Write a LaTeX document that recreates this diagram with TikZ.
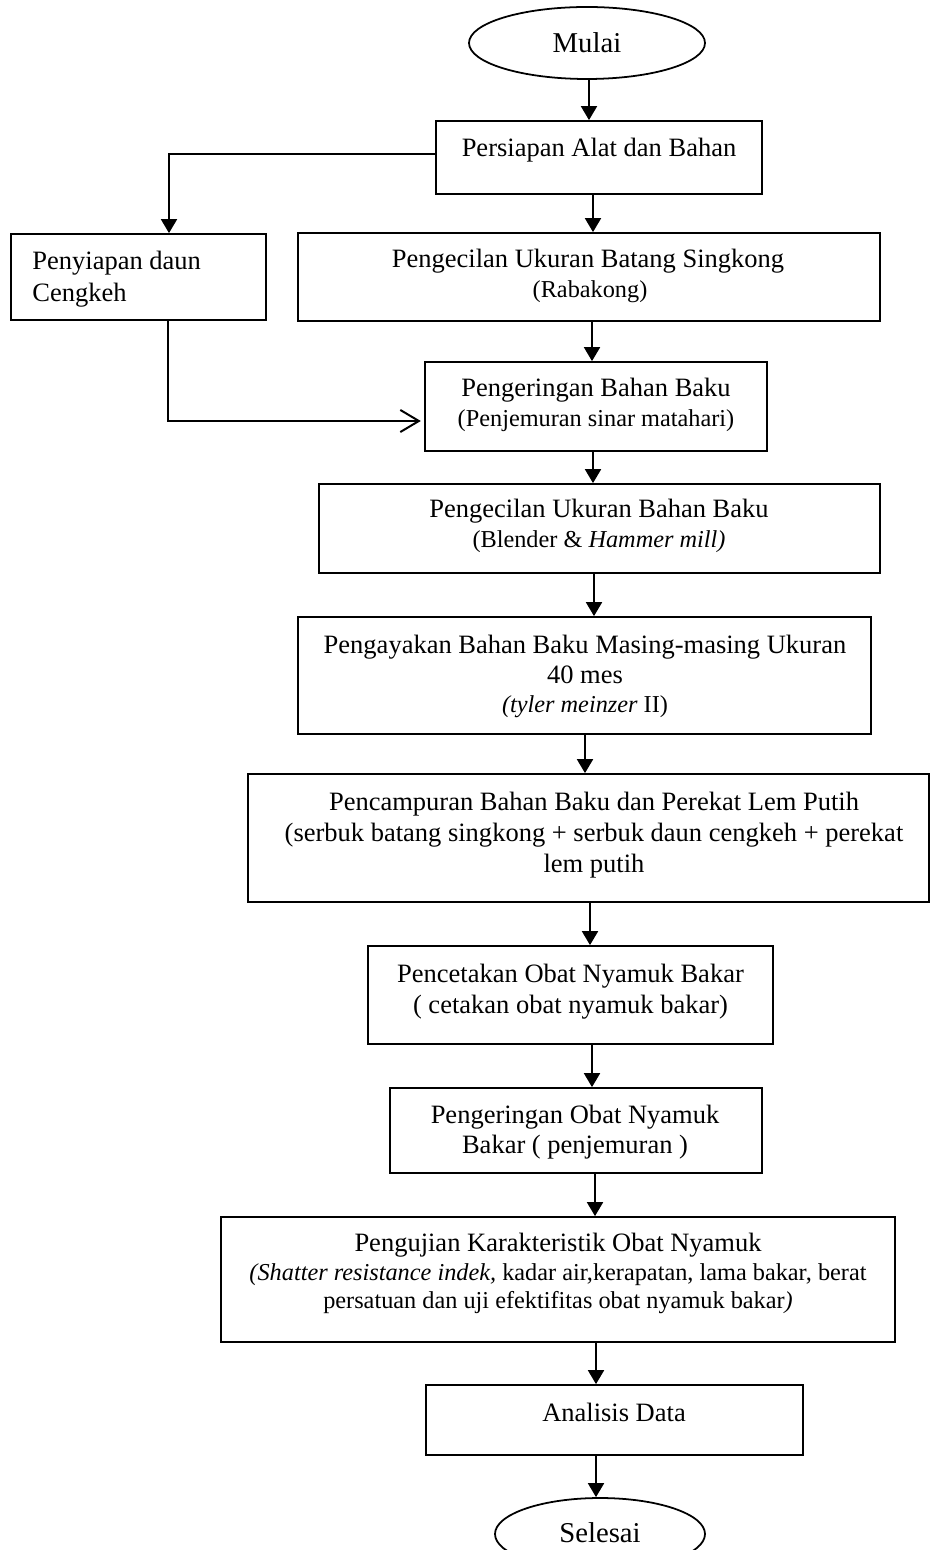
\documentclass[tikz,border=0pt]{standalone}
\usepackage{fontspec}
\setmainfont{Liberation Serif}
\usetikzlibrary{shapes.geometric,arrows.meta}
\begin{document}
\begin{tikzpicture}[x=0.4528pt,y=-0.4528pt,
  pbox/.style 2 args={draw,line width=0.8pt,rectangle,inner sep=0pt,minimum width=#1*0.4528pt,minimum height=#2*0.4528pt},
  term/.style 2 args={draw,line width=0.8pt,ellipse,inner sep=0pt,minimum width=#1*0.4528pt,minimum height=#2*0.4528pt},
  txt/.style={inner sep=0pt,anchor=base,font=\fontsize{12}{14}\selectfont},
  subtxt/.style={inner sep=0pt,anchor=base,font=\fontsize{11}{13}\selectfont},
  termtxt/.style={inner sep=0pt,anchor=base,font=\fontsize{13}{15}\selectfont},
  arr/.style={line width=0.9pt,-{Triangle[width=7.2pt,length=6.3pt]}},
  oarr/.style={line width=0.9pt,-{Straight Barb[length=8.4pt,width=10pt,line width=0.9pt]}}]
\useasboundingbox (0,0) rectangle (931,1550);

% boxes
\node[term={236}{72}] (mulai) at (587,43) {};
\node[pbox={326}{73}] (persiapan) at (599,157.5) {};
\node[pbox={255}{86}] (penyiapan) at (138.5,277) {};
\node[pbox={582}{88}] (batang) at (589,277) {};
\node[pbox={342}{89}] (kering) at (596,406.5) {};
\node[pbox={561}{89}] (kecil) at (599.5,528.5) {};
\node[pbox={573}{117}] (ayak) at (584.5,675.5) {};
\node[pbox={681}{128}] (campur) at (588.5,838) {};
\node[pbox={405}{98}] (cetak) at (570.5,995) {};
\node[pbox={372}{85}] (keringobat) at (576,1130.5) {};
\node[pbox={674}{125}] (uji) at (558,1279.5) {};
\node[pbox={377}{70}] (analisis) at (614.5,1420) {};
\node[term={210}{72}] (selesai) at (600,1534) {};

% texts
\node[termtxt] (tmulai) at (587,53) {Mulai};
\node[txt] (tpersiapan) at (599,157) {Persiapan Alat dan Bahan};
\node[txt,anchor=base west] (tpenyiapan1) at (32,270) {Penyiapan daun};
\node[txt,anchor=base west] (tpenyiapan2) at (32,302) {Cengkeh};
\node[txt] (tbatang1) at (588,268) {Pengecilan Ukuran Batang Singkong};
\node[subtxt] (tbatang2) at (590,298) {(Rabakong)};
\node[txt] (tkering1) at (596,397) {Pengeringan Bahan Baku};
\node[subtxt] (tkering2) at (596,427) {(Penjemuran sinar matahari)};
\node[txt] (tkecil1) at (599,518) {Pengecilan Ukuran Bahan Baku};
\node[subtxt] (tkecil2) at (599,548) {(Blender \& \textit{Hammer mill)}};
\node[txt] (tayak1) at (585,653) {Pengayakan Bahan Baku Masing-masing Ukuran};
\node[txt] (tayak2) at (585,683) {40 mes};
\node[subtxt] (tayak3) at (585,712) {\textit{(tyler meinzer} II)};
\node[txt] (tcampur1) at (594,810) {Pencampuran Bahan Baku dan Perekat Lem Putih};
\node[txt] (tcampur2) at (594,841) {(serbuk batang singkong + serbuk daun cengkeh + perekat};
\node[txt] (tcampur3) at (594,872) {lem putih};
\node[txt] (tcetak1) at (570.5,982) {Pencetakan Obat Nyamuk Bakar};
\node[txt] (tcetak2) at (570.5,1013) {( cetakan obat nyamuk bakar)};
\node[txt] (tkeringobat1) at (575,1123) {Pengeringan Obat Nyamuk};
\node[txt] (tkeringobat2) at (575,1153) {Bakar ( penjemuran )};
\node[txt] (tuji1) at (558,1251) {Pengujian Karakteristik Obat Nyamuk};
\node[subtxt] (tuji2) at (558,1280) {\textit{(Shatter resistance indek,} kadar air,kerapatan, lama bakar, berat};
\node[subtxt] (tuji3) at (558,1308) {persatuan dan uji efektifitas obat nyamuk bakar\textit{)}};
\node[txt] (tanalisis) at (614,1421) {Analisis Data};
\node[termtxt] (tselesai) at (600,1542) {Selesai};

% connectors
\draw[arr] (mulai.south -| 589,0) -- (persiapan.north -| 589,0);
\draw[arr] (persiapan.south -| 593,0) -- (batang.north -| 593,0);
\draw[arr] (persiapan.west |- 0,154) -| (penyiapan.north -| 169,0);
\draw[arr] (batang.south -| 592,0) -- (kering.north -| 592,0);
\draw[oarr,shorten >=1.5pt] (penyiapan.south -| 168,0) |- (kering.west |- 0,421);
\draw[arr] (kering.south -| 593,0) -- (kecil.north -| 593,0);
\draw[arr] (kecil.south -| 594,0) -- (ayak.north -| 594,0);
\draw[arr] (ayak.south -| 585,0) -- (campur.north -| 585,0);
\draw[arr] (campur.south -| 590,0) -- (cetak.north -| 590,0);
\draw[arr] (cetak.south -| 592,0) -- (keringobat.north -| 592,0);
\draw[arr] (keringobat.south -| 595,0) -- (uji.north -| 595,0);
\draw[arr] (uji.south -| 596,0) -- (analisis.north -| 596,0);
\draw[arr] (analisis.south -| 596,0) -- (selesai.north -| 596,0);
\end{tikzpicture}
\end{document}
